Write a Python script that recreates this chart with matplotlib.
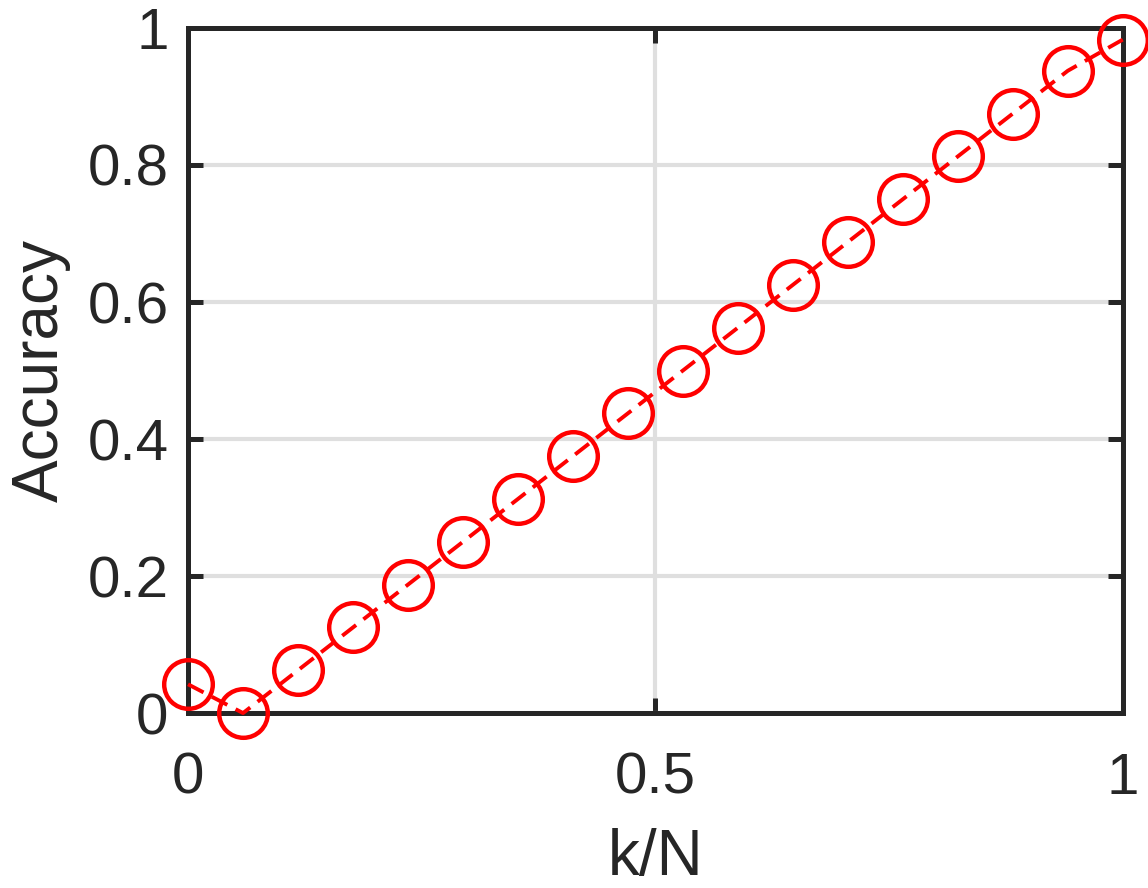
import numpy as np
import matplotlib
matplotlib.use("Agg")
import matplotlib.pyplot as plt

plt.rcParams['font.family'] = ['Liberation Sans', 'DejaVu Sans']

# k/N = i/17, i = 0..17
k_over_n = np.arange(18) / 17
accuracy = [0.042, 0.0, 0.0625, 0.125, 0.1875, 0.25, 0.3125, 0.375, 0.4375,
            0.5, 0.5625, 0.625, 0.6875, 0.75, 0.8125, 0.875, 0.9375, 0.983]

xticks = [0, 0.5, 1]
xticklabels = ['0', '0.5', '1']
yticks = [0, 0.2, 0.4, 0.6, 0.8, 1]
yticklabels = ['0', '0.2', '0.4', '0.6', '0.8', '1']

textcol = '#262626'

fig = plt.figure(figsize=(11.48, 8.88), dpi=100)
ax = fig.add_axes([0.1638, 0.197, 0.978 - 0.1638, 0.9685 - 0.197])

ax.plot(k_over_n, accuracy, color='red', linestyle='--', dashes=(4.5, 2.4),
        linewidth=2.8, marker='o', markersize=35, markerfacecolor='none',
        markeredgewidth=3.2, markeredgecolor='red', clip_on=False, zorder=3)

ax.set_xlim(0, 1)
ax.set_ylim(0, 1)
ax.set_xticks(xticks)
ax.set_xticklabels(xticklabels)
ax.set_yticks(yticks)
ax.set_yticklabels(yticklabels)

ax.grid(True, color='#dfdfdf', linewidth=3)
ax.set_axisbelow(True)
for s in ax.spines.values():
    s.set_linewidth(3.6)
    s.set_color(textcol)

ax.tick_params(direction='in', length=11, width=3.6, colors=textcol,
               labelsize=42, top=True, right=True)
ax.tick_params(axis='x', pad=28)
ax.tick_params(axis='y', pad=14)

ax.set_xlabel('k/N', fontsize=46, color=textcol, labelpad=16)
ax.set_ylabel('Accuracy', fontsize=46, color=textcol, labelpad=12)

fig.savefig('out.png', dpi=100)
